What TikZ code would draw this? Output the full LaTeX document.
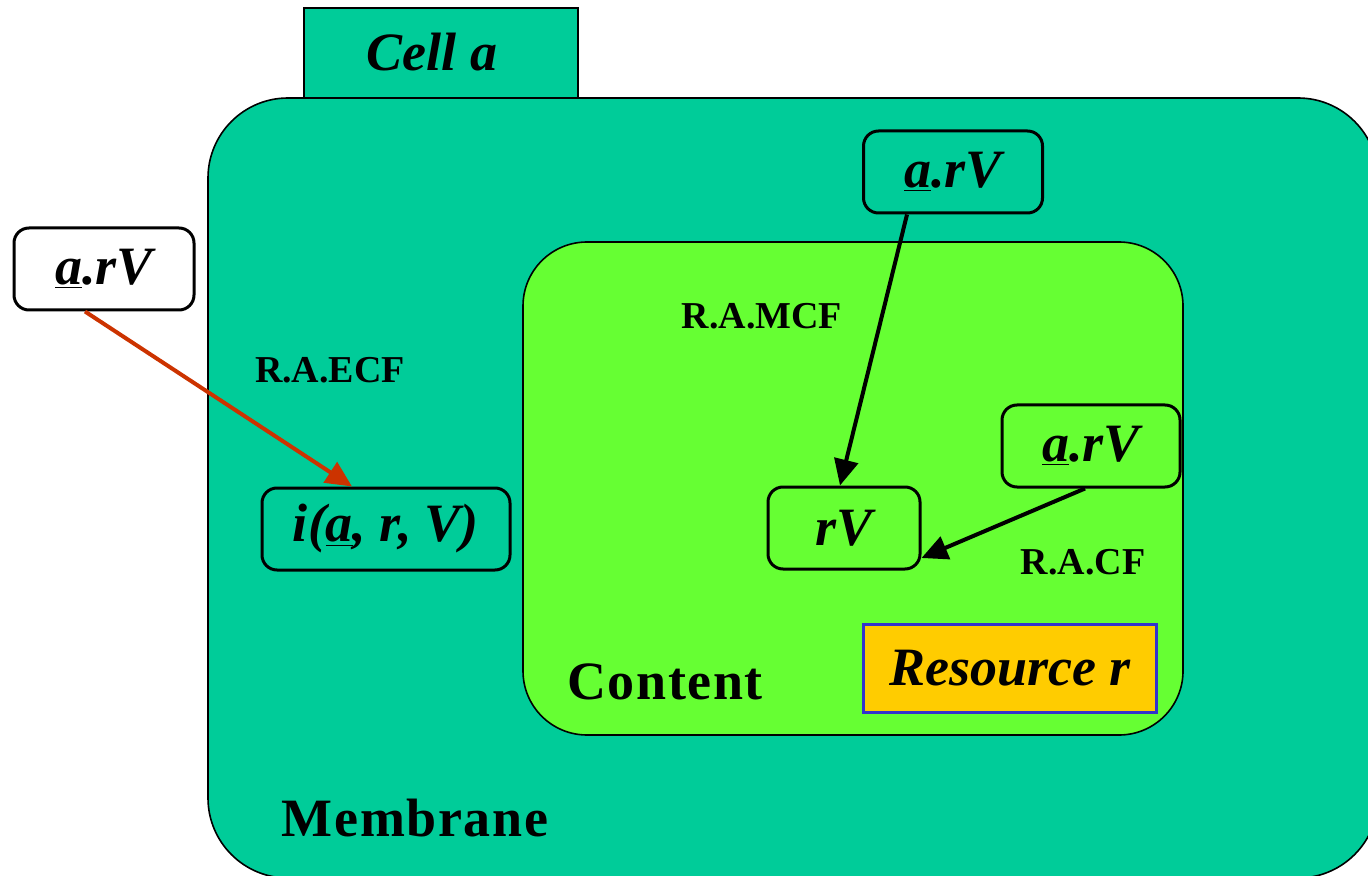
\documentclass[tikz,border=0pt]{standalone}
\usepackage{fontspec}
\setmainfont{Liberation Serif}
\usepackage{tikz}
\usetikzlibrary{calc,arrows.meta,positioning}
\definecolor{membranegreen}{HTML}{00CC99}
\definecolor{contentgreen}{HTML}{66FF33}
\definecolor{resorange}{HTML}{FFCC00}
\definecolor{resblue}{HTML}{3333CC}
\definecolor{ecfred}{HTML}{CC3300}
\tikzset{bigtext/.style={font=\fontsize{27}{30}\selectfont\bfseries\itshape},
labeltext/.style={font=\fontsize{19}{22}\selectfont\bfseries},
regiontext/.style={font=\fontsize{27}{30}\selectfont\bfseries\addfontfeature{LetterSpace=3}}}

\begin{document}
\begin{tikzpicture}[x=0.5pt,y=-0.5pt]

\tikzset{termbox/.style={bigtext,draw=black,line width=1.5pt,rounded corners=7.5pt,minimum height=41pt,inner sep=0pt},
flowarrow/.style={line width=2pt,-{Triangle[length=13pt,width=12pt]}}}

\useasboundingbox (0,0) rectangle (1368,876);
\clip (0,0) rectangle (1368,876);

% Cell and membrane
\draw[fill=membranegreen,line width=0.8pt] (304,8) rectangle (578,98);
\node[bigtext] (cellLabel) at (432,52) {Cell \textit{a}};
\draw[fill=membranegreen,line width=0.8pt,rounded corners=40pt] (208,98) rectangle (1378,878);

% Content
\draw[fill=contentgreen,line width=0.8pt,rounded corners=32pt] (523,242) rectangle (1183,735);

% Resource
\node[bigtext,fill=resorange,draw=resblue,line width=1.5pt,minimum width=146.5pt,minimum height=44pt] (res) at (1010,668) {Resource \textit{r}};

% Terms
\node[termbox,fill=white,minimum width=90pt] (lav) at (104,269) {\underline{a}.rV};
\node[termbox,fill=membranegreen,minimum width=89.5pt] (tav) at (953,172) {\underline{a}.rV};
\node[termbox,fill=membranegreen,minimum width=124pt] (iarv) at (386,529) {i(\underline{a}, r, V)};
\node[termbox,fill=contentgreen,minimum width=76pt] (rv) at (844,528) {rV};
\node[termbox,fill=contentgreen,minimum width=89pt] (rav) at (1091,446) {\underline{a}.rV};

% Rules
\draw[flowarrow,ecfred] ([xshift=-9.5pt]lav.south) -- ([xshift=-17pt]iarv.north);
\draw[flowarrow] ([xshift=-23pt]tav.south) -- ([xshift=-2pt]rv.north);
\draw[flowarrow] ([xshift=-3pt]rav.south) -- ([yshift=-15pt]rv.east);

% Rule labels
\node[labeltext] (ecf) at (330,370) {R.A.ECF};
\node[labeltext] (mcf) at (762,316) {R.A.MCF};
\node[labeltext] (cf) at (1083,562) {R.A.CF};

% Region labels
\node[regiontext] (contentLabel) at (665,682) {Content};
\node[regiontext] (membraneLabel) at (415,818) {Membrane};

\end{tikzpicture}
\end{document}
